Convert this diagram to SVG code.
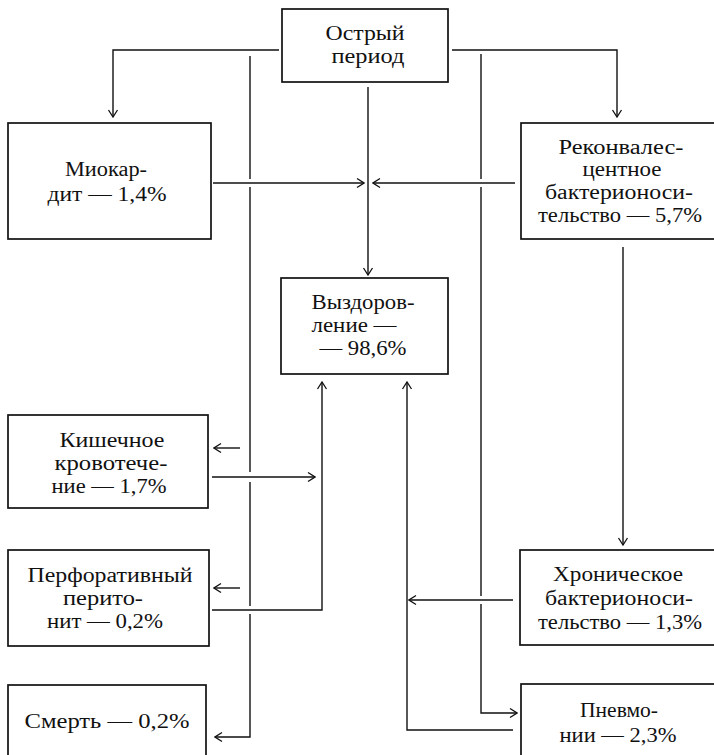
<svg xmlns="http://www.w3.org/2000/svg" width="714" height="755" viewBox="0 0 714 755">
<style>
.box{fill:#fff;stroke:#111;stroke-width:1.7}
.t{font-family:"Liberation Serif","Times New Roman",serif;font-size:20px;text-anchor:middle;fill:#111}
.c{fill:none;stroke:#111;stroke-width:1.4}
</style>
<defs>
<marker id="ah" markerUnits="userSpaceOnUse" viewBox="-9 -6 10 12" refX="0" refY="0" markerWidth="10" markerHeight="12" orient="auto">
<path d="M-7,-4.5 L0,0 L-7,4.5" fill="none" stroke="#111" stroke-width="1.3"/>
</marker>
</defs>
<rect width="714" height="755" fill="#fff"/>
<g id="connectors">
<path class="c" d="M279,50 H113 V117" marker-end="url(#ah)"/>
<path class="c" d="M452,50 H617 V117" marker-end="url(#ah)"/>
<path class="c" d="M368,87 V275" marker-end="url(#ah)"/>
<path class="c" d="M213,183 H364" marker-end="url(#ah)"/>
<path class="c" d="M515,183 H373" marker-end="url(#ah)"/>
<path class="c" d="M250,56 V179 M250,187 V472 M250,482 V606 M250,614 V737 H215" marker-end="url(#ah)"/>
<path class="c" d="M240,448 H214" marker-end="url(#ah)"/>
<path class="c" d="M240,588 H214" marker-end="url(#ah)"/>
<path class="c" d="M212,477 H315" marker-end="url(#ah)"/>
<path class="c" d="M212,610 H322 V382" marker-end="url(#ah)"/>
<path class="c" d="M623,247 V545" marker-end="url(#ah)"/>
<path class="c" d="M513,600 H409" marker-end="url(#ah)"/>
<path class="c" d="M513,730 H407 V382" marker-end="url(#ah)"/>
<path class="c" d="M481,54 V179 M481,187 V596 M481,604 V713 H517" marker-end="url(#ah)"/>
</g>
<g id="acute">
<rect class="box" x="282" y="9" width="166" height="73"/>
<text class="t" x="365" y="40" textLength="79" lengthAdjust="spacingAndGlyphs">Острый</text>
<text class="t" x="368" y="63" textLength="73" lengthAdjust="spacingAndGlyphs">период</text>
</g>
<g id="myocarditis">
<rect class="box" x="8" y="123" width="203" height="116"/>
<text class="t" x="106" y="176" textLength="82" lengthAdjust="spacingAndGlyphs">Миокар-</text>
<text class="t" x="107" y="201" textLength="119" lengthAdjust="spacingAndGlyphs">дит — 1,4%</text>
</g>
<g id="reconvalescent">
<rect class="box" x="521" y="123" width="200" height="116"/>
<text class="t" x="621" y="154" textLength="125" lengthAdjust="spacingAndGlyphs">Реконвалес-</text>
<text class="t" x="622" y="176" textLength="79" lengthAdjust="spacingAndGlyphs">центное</text>
<text class="t" x="619" y="199" textLength="148" lengthAdjust="spacingAndGlyphs">бактерионоси-</text>
<text class="t" x="620" y="222" textLength="164" lengthAdjust="spacingAndGlyphs">тельство — 5,7%</text>
</g>
<g id="recovery">
<rect class="box" x="281" y="278" width="167" height="96"/>
<text class="t" x="363" y="309" textLength="103" lengthAdjust="spacingAndGlyphs">Выздоров-</text>
<text class="t" x="354" y="332" textLength="85" lengthAdjust="spacingAndGlyphs">ление —</text>
<text class="t" x="363" y="355" textLength="87" lengthAdjust="spacingAndGlyphs">— 98,6%</text>
</g>
<g id="bleeding">
<rect class="box" x="8" y="415" width="200" height="93"/>
<text class="t" x="112" y="447" textLength="105" lengthAdjust="spacingAndGlyphs">Кишечное</text>
<text class="t" x="111" y="470" textLength="113" lengthAdjust="spacingAndGlyphs">кровотече-</text>
<text class="t" x="109" y="493" textLength="115" lengthAdjust="spacingAndGlyphs">ние — 1,7%</text>
</g>
<g id="peritonitis">
<rect class="box" x="8" y="550" width="201" height="96"/>
<text class="t" x="110" y="582" textLength="165" lengthAdjust="spacingAndGlyphs">Перфоративный</text>
<text class="t" x="103" y="605" textLength="80" lengthAdjust="spacingAndGlyphs">перито-</text>
<text class="t" x="105" y="628" textLength="116" lengthAdjust="spacingAndGlyphs">нит — 0,2%</text>
</g>
<g id="death">
<rect class="box" x="8" y="685" width="198" height="80"/>
<text class="t" x="107" y="728" textLength="165" lengthAdjust="spacingAndGlyphs">Смерть — 0,2%</text>
</g>
<g id="chronic">
<rect class="box" x="520" y="550" width="200" height="95"/>
<text class="t" x="618" y="581" textLength="130" lengthAdjust="spacingAndGlyphs">Хроническое</text>
<text class="t" x="619" y="605" textLength="148" lengthAdjust="spacingAndGlyphs">бактерионоси-</text>
<text class="t" x="620" y="629" textLength="164" lengthAdjust="spacingAndGlyphs">тельство — 1,3%</text>
</g>
<g id="pneumonia">
<rect class="box" x="521" y="684" width="200" height="80"/>
<text class="t" x="619" y="717" textLength="78" lengthAdjust="spacingAndGlyphs">Пневмо-</text>
<text class="t" x="618" y="742" textLength="117" lengthAdjust="spacingAndGlyphs">нии — 2,3%</text>
</g>
</svg>
